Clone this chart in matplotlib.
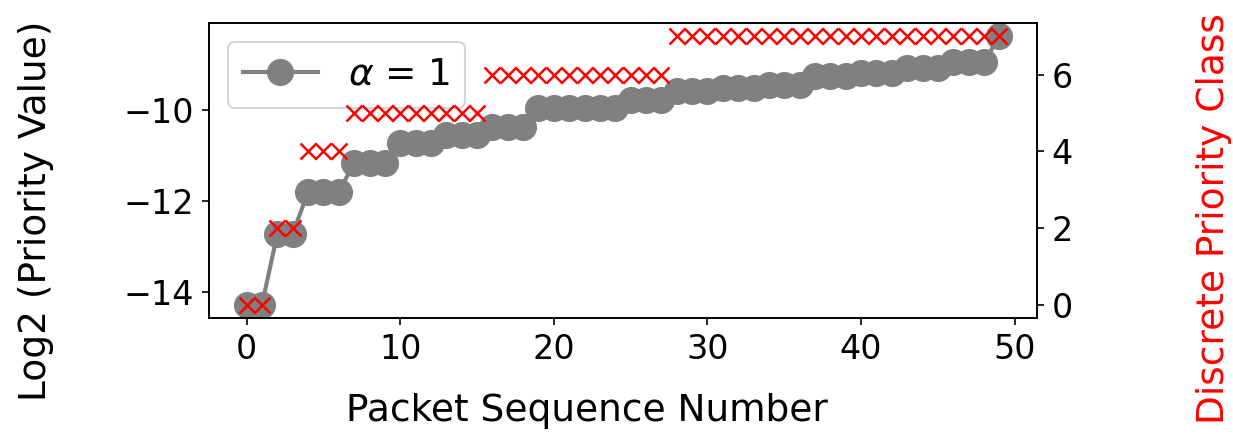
import matplotlib
matplotlib.use("Agg")
import matplotlib.pyplot as plt
import numpy as np

# dados
seq = np.arange(50)
log2_prio = [-14.27, -14.27,
             -12.72, -12.72,
             -11.80, -11.80, -11.80,
             -11.17, -11.17, -11.17,
             -10.74, -10.74, -10.74,
             -10.55, -10.55, -10.55,
             -10.38, -10.38, -10.38,
             -9.96, -9.96, -9.96, -9.96, -9.96, -9.96,
             -9.79, -9.79, -9.79,
             -9.60, -9.60, -9.60,
             -9.53, -9.53, -9.53,
             -9.47, -9.47, -9.47,
             -9.26, -9.26, -9.26,
             -9.21, -9.21, -9.21,
             -9.10, -9.10, -9.10,
             -8.97, -8.97, -8.97,
             -8.40]
classe = [0]*2 + [2]*2 + [4]*3 + [5]*9 + [6]*12 + [7]*22

fig = plt.figure(figsize=(1233/150, 434/150), dpi=150)
ax = fig.add_axes([0.1695, 0.267, 0.6715, 0.68])
ax.plot(seq, log2_prio, '-o', color='grey', lw=2, markersize=12, label=r'$\alpha$ = 1')
ax.set_xlabel('Packet Sequence Number', fontsize=18)
ax.set_ylabel('Log2 (Priority Value)', fontsize=18)
ax.tick_params(labelsize=16)
ax.xaxis.set_label_coords(0.4565, -0.254)
ax.yaxis.set_label_coords(-0.187, 0.363)
ax.legend(loc='upper left', fontsize=18)

ax2 = ax.twinx()
ax2.plot(seq, classe, 'x', color='red', markersize=8, mew=1.2)
ax2.set_ylabel('Discrete Priority Class', color='red', fontsize=18)
ax2.yaxis.set_label_coords(1.192, 0.336)
ax2.tick_params(labelsize=16)
ax2.set_yticks([0, 2, 4, 6])

fig.savefig('out.png', dpi=150)
